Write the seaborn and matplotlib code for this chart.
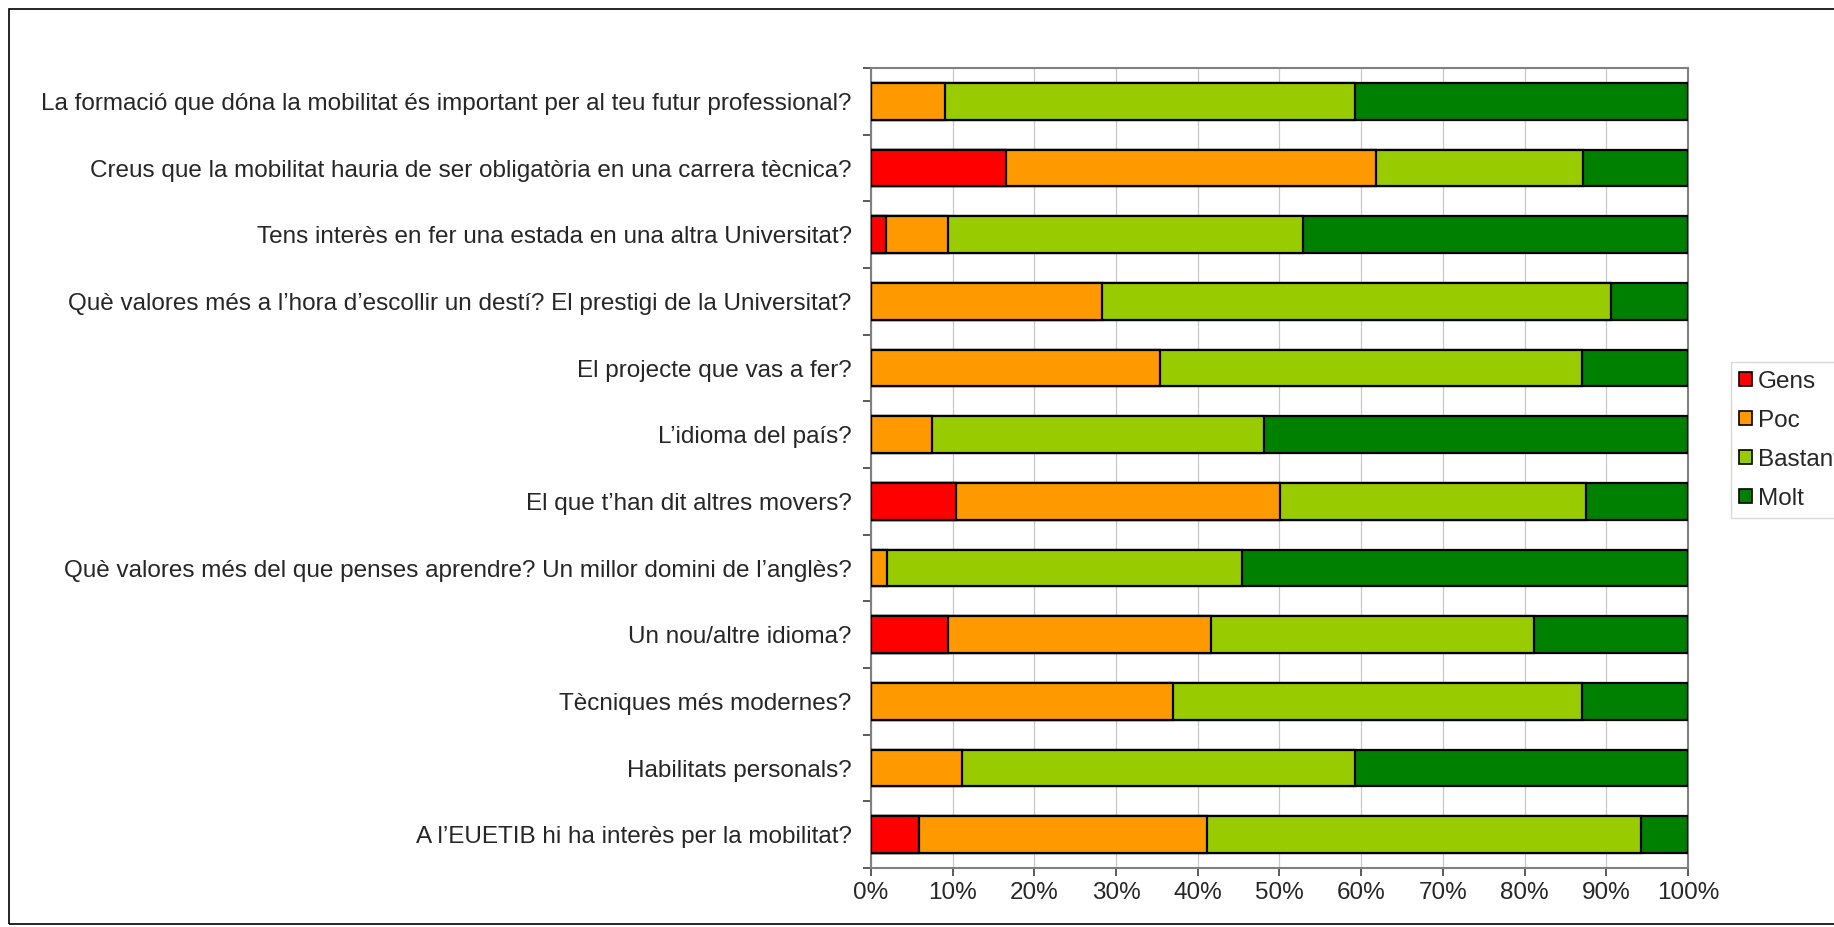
import numpy as np
import pandas as pd
import matplotlib
matplotlib.use("Agg")
import matplotlib.pyplot as plt
import seaborn as sns
from matplotlib.patches import Rectangle, Patch
from matplotlib.ticker import PercentFormatter, FixedLocator

preguntes = [
    "La formació que dóna la mobilitat és important per al teu futur professional?",
    "Creus que la mobilitat hauria de ser obligatòria en una carrera tècnica?",
    "Tens interès en fer una estada en una altra Universitat?",
    "Què valores més a l’hora d’escollir un destí? El prestigi de la Universitat?",
    "El projecte que vas a fer?",
    "L’idioma del país?",
    "El que t’han dit altres movers?",
    "Què valores més del que penses aprendre? Un millor domini de l’anglès?",
    "Un nou/altre idioma?",
    "Tècniques més modernes?",
    "Habilitats personals?",
    "A l’EUETIB hi ha interès per la mobilitat?",
]
# percentatges llegits del grafic
gens    = [0.0, 16.5, 1.9, 0.0, 0.0, 0.0, 10.4, 0.0, 9.4, 0.0, 0.0, 5.9]
poc     = [9.1, 45.3, 7.5, 28.3, 35.4, 7.5, 39.7, 2.0, 32.2, 37.0, 11.2, 35.2]
bastant = [50.1, 25.4, 43.5, 62.3, 51.6, 40.6, 37.4, 43.4, 39.5, 50.0, 48.0, 53.1]
molt    = [40.8, 12.8, 47.1, 9.4, 13.0, 51.9, 12.5, 54.6, 18.9, 13.0, 40.8, 5.8]

series = ["Gens", "Poc", "Bastant", "Molt"]
colors = {"Gens": "#FF0000", "Poc": "#FF9900", "Bastant": "#99CC00", "Molt": "#008000"}

df = pd.DataFrame({"pregunta": preguntes, "Gens": gens, "Poc": poc,
                   "Bastant": bastant, "Molt": molt})
tot = df[series].sum(axis=1)
for s in series:
    df[s] = df[s] / tot * 100
cum = df[series].cumsum(axis=1)

sns.set_style("white")
plt.rcParams["font.family"] = ["Liberation Sans", "DejaVu Sans"]
FS = 17.5

fig = plt.figure(figsize=(18.34, 9.27), dpi=100)
ax = fig.add_axes([0.4749, 0.0636, 0.4455, 0.863])

# barres apilades: es pinten els acumulats de gran a petit
for s in reversed(series):
    sns.barplot(x=cum[s], y=df["pregunta"], color=colors[s], saturation=1, orient="h",
                width=0.55, edgecolor="black", linewidth=1.6, ax=ax, zorder=3)

ax.set_xlim(0, 100)
ax.set_ylim(len(preguntes) - 0.5, -0.5)
ax.xaxis.set_major_locator(FixedLocator(np.arange(0, 101, 10)))
ax.xaxis.set_major_formatter(PercentFormatter(decimals=0))
ax.grid(axis="x", color="#c8c8c8", linewidth=0.9, zorder=0)
ax.set_axisbelow(True)
ax.set_xlabel("")
ax.set_ylabel("")

ax.yaxis.set_minor_locator(FixedLocator(np.arange(-0.5, len(preguntes), 1)))
ax.tick_params(axis="y", which="major", length=0, labelsize=FS, pad=14)
ax.tick_params(axis="y", which="minor", length=6, width=1.2, color="#404040", left=True)
ax.tick_params(axis="x", which="major", length=6, width=1.2, color="#404040",
               labelsize=FS, pad=4, bottom=True)

for side in ["left", "bottom", "top", "right"]:
    ax.spines[side].set_color("#808080")
    ax.spines[side].set_linewidth(1.5)

handles = [Patch(facecolor=colors[s], edgecolor="black", linewidth=1.2, label=s) for s in series]
fig.legend(handles=handles, loc="upper left", bbox_to_anchor=(0.9438, 0.6095),
           borderaxespad=0, frameon=True, fancybox=False, edgecolor="#d0d0d0",
           fontsize=FS, handlelength=0.5, handleheight=0.5, handletextpad=0.25,
           labelspacing=0.7, borderpad=0.35)

fig.patches.append(Rectangle((0.005, 0.003), 1.2, 0.987, transform=fig.transFigure,
                             fill=False, edgecolor="black", linewidth=1.2))

fig.savefig("out.png", dpi=100, facecolor="white")
